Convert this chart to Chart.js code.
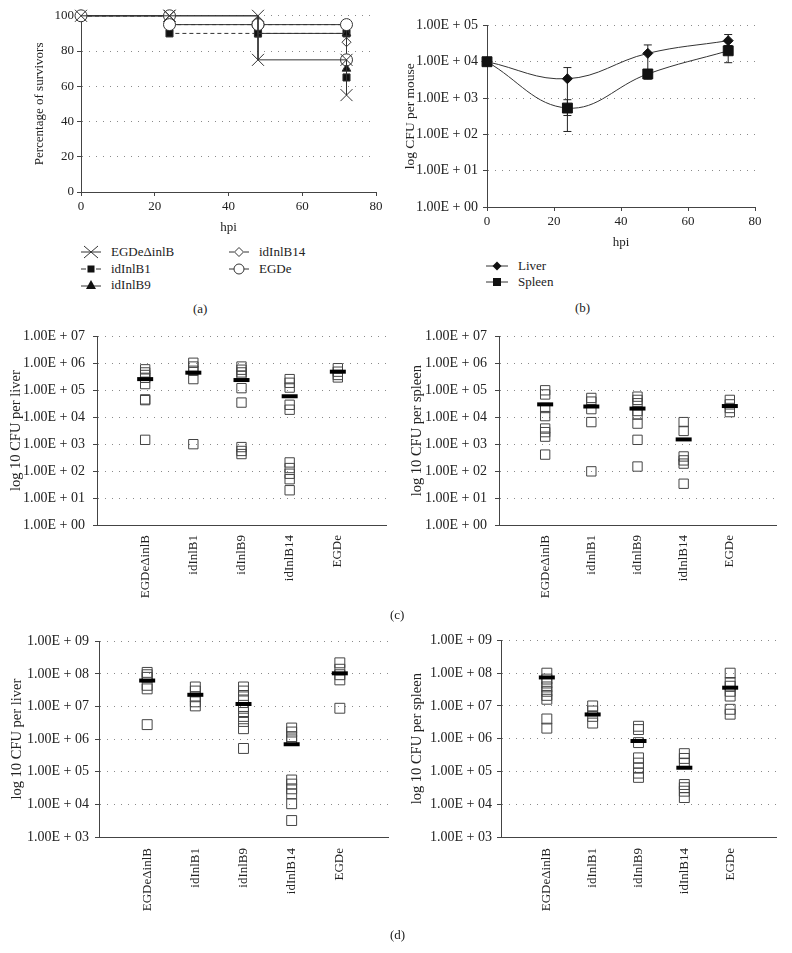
<!DOCTYPE html>
<html>
<head>
<meta charset="utf-8">
<script src="https://cdn.jsdelivr.net/npm/chart.js@4.4.0/dist/chart.umd.min.js"></script>
<style>
  body { margin: 0; width: 792px; height: 953px; background: #fff; position: relative; overflow: hidden;
         font-family: "Liberation Serif", "DejaVu Serif", serif; color: #222; }
  canvas { position: absolute; }
  .t { position: absolute; font-size: 13px; line-height: 16px; white-space: nowrap; }
  .t svg { vertical-align: middle; margin-right: 10px; position: relative; top: -1px; }
</style>
</head>
<body>
<canvas id="chartA" width="386" height="232" style="left:0;top:5px"></canvas>
<canvas id="chartB" width="365" height="240" style="left:400px;top:12px"></canvas>
<canvas id="chartCL" width="398" height="290" style="left:0;top:320px"></canvas>
<canvas id="chartCR" width="388" height="290" style="left:400px;top:320px"></canvas>
<canvas id="chartDL" width="400" height="300" style="left:0;top:627px"></canvas>
<canvas id="chartDR" width="388" height="300" style="left:400px;top:627px"></canvas>

<!-- legend (a) -->
<div class="t" style="left:81px;top:244px"><svg width="20" height="14"><line x1="0" y1="7" x2="20" y2="7" stroke="#333"/><line x1="3" y1="1" x2="17" y2="13" stroke="#333"/><line x1="3" y1="13" x2="17" y2="1" stroke="#333"/></svg>EGDeΔinlB</div>
<div class="t" style="left:81px;top:261px"><svg width="20" height="14"><line x1="0" y1="7" x2="5" y2="7" stroke="#333"/><line x1="15" y1="7" x2="20" y2="7" stroke="#333"/><rect x="6.5" y="3.5" width="7" height="7" fill="#111"/></svg>idInlB1</div>
<div class="t" style="left:81px;top:277px"><svg width="20" height="14"><line x1="0" y1="8" x2="20" y2="8" stroke="#333"/><polygon points="10,2 15,11 5,11" fill="#111"/></svg>idInlB9</div>
<div class="t" style="left:229px;top:244px"><svg width="20" height="14"><line x1="0" y1="7" x2="5" y2="7" stroke="#333"/><line x1="15" y1="7" x2="20" y2="7" stroke="#333"/><polygon points="10,2.5 14.5,7 10,11.5 5.5,7" fill="#fff" stroke="#333"/></svg>idInlB14</div>
<div class="t" style="left:229px;top:261px"><svg width="20" height="14"><line x1="0" y1="7" x2="20" y2="7" stroke="#333"/><circle cx="10" cy="7" r="5" fill="#fff" stroke="#333"/></svg>EGDe</div>
<div class="t" style="left:193px;top:301px">(a)</div>

<!-- legend (b) -->
<div class="t" style="left:486px;top:258px"><svg width="22" height="14"><line x1="0" y1="7" x2="22" y2="7" stroke="#333"/><polygon points="11,2.5 15.5,7 11,11.5 6.5,7" fill="#111"/></svg>Liver</div>
<div class="t" style="left:486px;top:274px"><svg width="22" height="14"><line x1="0" y1="7" x2="22" y2="7" stroke="#333"/><rect x="7" y="3" width="8" height="8" fill="#111"/></svg>Spleen</div>
<div class="t" style="left:575px;top:300px">(b)</div>

<div class="t" style="left:390px;top:607px">(c)</div>
<div class="t" style="left:390px;top:927px">(d)</div>

<script>
// ---- (a) survival ----
const hours = [0, 24, 48, 72];
const survEGDeDinlB = [100, 100, 75, 55];
const survInlB1 = [100, 90, 90, 65];
const survInlB9 = [100, 100, 90, 70];
const survInlB14 = [100, 95, 95, 85];
const survEGDe = [100, 95, 95, 75];

// ---- (b) log CFU per mouse ----
const liverCfu = [1.0e4, 3.4e3, 1.7e4, 3.8e4];
const liverLow = [null, 3.3e2, 3.3e3, 2.7e4];
const liverHigh = [null, 6.9e3, 2.9e4, 5.6e4];
const spleenCfu = [1.0e4, 5.3e2, 4.6e3, 2.0e4];
const spleenLow = [null, 1.2e2, 3.5e3, 9.4e3];
const spleenHigh = [null, 9.0e2, 5.5e3, 2.8e4];

// ---- (c) / (d) organ burdens ----
const strains = ['EGDeΔinlB', 'idInlB1', 'idInlB9', 'idInlB14', 'EGDe'];
const liverC = [
  [6.0e5, 4.6e5, 3.7e5, 2.9e5, 1.7e5, 4.6e4, 4.3e4, 1.45e3],
  [1.05e6, 7.6e5, 5.3e5, 2.6e5, 1.0e3],
  [7.6e5, 5.8e5, 4.6e5, 3.5e5, 1.2e5, 3.5e4, 7.8e2, 5.6e2, 4.3e2],
  [2.6e5, 1.9e5, 1.26e5, 2.9e4, 1.9e4, 2.1e2, 1.3e2, 8.0e1, 5.0e1, 1.95e1],
  [6.6e5, 4.9e5, 3.7e5, 3.0e5]
];
const liverCMean = [2.6e5, 4.5e5, 2.4e5, 6.0e4, 4.9e5];
const spleenC = [
  [1.0e5, 7.0e4, 2.2e4, 1.1e4, 3.8e3, 2.8e3, 1.9e3, 4.1e2],
  [5.2e4, 3.8e4, 2.0e4, 6.6e3, 9.8e1],
  [5.8e4, 4.4e4, 3.3e4, 1.7e4, 1.26e4, 5.8e3, 1.45e3, 1.48e2],
  [6.6e3, 3.1e3, 3.5e2, 2.5e2, 1.9e2, 3.4e1],
  [4.4e4, 3.0e4, 2.2e4, 1.55e4]
];
const spleenCMean = [3.0e4, 2.5e4, 2.1e4, 1.5e3, 2.6e4];
const liverD = [
  [1.12e8, 9.5e7, 7.9e7, 4.5e7, 3.5e7, 2.8e6],
  [4.0e7, 3.0e7, 2.0e7, 1.4e7, 1.05e7],
  [4.0e7, 3.0e7, 2.2e7, 1.6e7, 8.9e6, 6.6e6, 5.0e6, 3.5e6, 2.1e6, 5.2e5],
  [2.2e6, 1.66e6, 1.2e6, 9.5e5, 5.6e4, 4.2e4, 3.0e4, 2.1e4, 1.05e4, 3.2e3],
  [2.2e8, 1.4e8, 9.5e7, 6.6e7, 8.9e6]
];
const liverDMean = [6.3e7, 2.3e7, 1.2e7, 7.0e5, 1.05e8];
const spleenD = [
  [1.0e8, 6.6e7, 5.0e7, 3.8e7, 2.8e7, 2.1e7, 1.6e7, 4.0e6, 2.1e6],
  [1.0e7, 7.0e6, 4.8e6, 3.0e6],
  [2.4e6, 1.9e6, 7.6e5, 2.6e5, 1.8e5, 1.26e5, 8.9e4, 6.6e4],
  [3.5e5, 2.5e5, 1.8e5, 4.0e4, 3.2e4, 2.5e4, 1.6e4],
  [1.0e8, 5.2e7, 4.0e7, 2.8e7, 2.0e7, 7.9e6, 5.6e6]
];
const spleenDMean = [7.4e7, 5.5e6, 8.5e5, 1.3e5, 3.6e7];

const expC = [0, 1, 2, 3, 4, 5, 6, 7];
const expD = [3, 4, 5, 6, 7, 8, 9];
const expB = [0, 1, 2, 3, 4, 5];

const FONT = { family: '"Liberation Serif", serif', size: 13 };
const LOGTICK = { family: '"Liberation Serif", serif', size: 14 };
const BIGTITLE = { family: '"Liberation Serif", serif', size: 14.5 };
const INK = '#222';
const AXIS = '#444';
const DOTS = '#8a8a8a';

Chart.defaults.font = FONT;
Chart.defaults.color = INK;
Chart.defaults.animation = false;
Chart.defaults.responsive = false;
Chart.defaults.plugins.legend.display = false;
Chart.defaults.plugins.tooltip.enabled = false;

function sciLabel(v) {
  const e = Math.round(Math.log10(v));
  return '1.00E + ' + String(e).padStart(2, '0');
}

function decadeTicks(exps) {
  return scale => { scale.ticks = exps.map(e => ({ value: Math.pow(10, e) })); };
}

function kmPoints(vals) {
  const pts = [{ x: hours[0], y: vals[0] }];
  for (let i = 1; i < hours.length; i++) {
    pts.push({ x: hours[i], y: vals[i - 1] }, { x: hours[i], y: vals[i] });
  }
  return pts;
}

// error bars drawn behind the markers
const errorBars = {
  id: 'errorBars',
  beforeDatasetsDraw(chart) {
    const { ctx, scales: { x, y } } = chart;
    ctx.save();
    ctx.strokeStyle = INK;
    ctx.lineWidth = 1;
    chart.data.datasets.forEach(ds => {
      if (!ds.errLow) return;
      ds.data.forEach((p, i) => {
        if (ds.errLow[i] == null) return;
        const px = x.getPixelForValue(p.x);
        const yl = y.getPixelForValue(ds.errLow[i]);
        const yh = y.getPixelForValue(ds.errHigh[i]);
        ctx.beginPath();
        ctx.moveTo(px, yl); ctx.lineTo(px, yh);
        ctx.moveTo(px - 4, yl); ctx.lineTo(px + 4, yl);
        ctx.moveTo(px - 4, yh); ctx.lineTo(px + 4, yh);
        ctx.stroke();
      });
    });
    ctx.restore();
  }
};

// ---- (a) ----
// markFrom: markers are only drawn from that hour on (earlier ones sit under other symbols)
function kmSet(vals, style, radius, fill, dash, markFrom = 0) {
  const pts = kmPoints(vals);
  return {
    data: pts, borderColor: '#333', borderWidth: 1, borderDash: dash,
    pointStyle: style, pointRadius: pts.map(p => (p.x >= markFrom ? radius : 0)),
    pointBackgroundColor: fill,
    pointBorderColor: '#333', pointBorderWidth: 1, tension: 0, clip: false
  };
}
new Chart(document.getElementById('chartA'), {
  type: 'line',
  data: {
    datasets: [
      kmSet(survEGDeDinlB, 'crossRot', 8.5, '#333', []),
      kmSet(survEGDe, 'circle', 6, '#fff', []),
      kmSet(survInlB14, 'rectRot', 4.5, '#fff', [4, 3]),
      kmSet(survInlB9, 'triangle', 5, '#111', [], 72),
      kmSet(survInlB1, 'rect', 5, '#111', [4, 3])
    ]
  },
  options: {
    layout: { padding: { top: 10, right: 10, left: 0, bottom: 0 } },
    scales: {
      x: {
        type: 'linear', min: 0, max: 80,
        ticks: { stepSize: 20, padding: 3 },
        grid: { drawOnChartArea: false, tickLength: 4, color: AXIS },
        border: { color: AXIS },
        title: { display: true, text: 'hpi', padding: { top: 0, bottom: 2 } },
        afterFit: s => { s.height = 45; }
      },
      y: {
        min: 0, max: 100,
        ticks: { stepSize: 20, padding: 3 },
        grid: { color: DOTS, tickLength: 4, tickColor: AXIS },
        border: { color: AXIS, dash: [1, 6] },
        title: { display: true, text: 'Percentage of survivors', padding: { top: 32, bottom: 0 } },
        afterFit: s => { s.width = 81; }
      }
    }
  }
});

// ---- (b) ----
new Chart(document.getElementById('chartB'), {
  type: 'line',
  data: {
    datasets: [
      {
        label: 'Liver', data: hours.map((h, i) => ({ x: h, y: liverCfu[i] })),
        errLow: liverLow, errHigh: liverHigh, clip: false,
        borderColor: '#333', borderWidth: 1, tension: 0.4,
        pointStyle: 'rectRot', pointRadius: 5, pointBackgroundColor: '#111', pointBorderColor: '#111'
      },
      {
        label: 'Spleen', data: hours.map((h, i) => ({ x: h, y: spleenCfu[i] })),
        errLow: spleenLow, errHigh: spleenHigh, clip: false,
        borderColor: '#333', borderWidth: 1, tension: 0.4,
        pointStyle: 'rect', pointRadius: 7, pointBackgroundColor: '#111', pointBorderColor: '#111'
      }
    ]
  },
  options: {
    layout: { padding: { top: 10, right: 10, left: 0, bottom: 0 } },
    scales: {
      x: {
        type: 'linear', min: 0, max: 80,
        ticks: { stepSize: 20, padding: 3 },
        grid: { drawOnChartArea: false, tickLength: 4, color: AXIS },
        border: { color: AXIS },
        title: { display: true, text: 'hpi', padding: { top: 0, bottom: 2 } },
        afterFit: s => { s.height = 45; }
      },
      y: {
        type: 'logarithmic', min: 1, max: 1e5,
        afterBuildTicks: decadeTicks(expB),
        ticks: { callback: v => sciLabel(v), padding: 5, font: LOGTICK },
        grid: { color: DOTS, tickLength: 4, tickColor: AXIS },
        border: { color: AXIS, dash: [1, 6] },
        title: { display: true, text: 'log CFU per mouse', padding: { top: 2, bottom: 0 }, font: { size: 13.5 } },
        afterFit: s => { s.width = 87; }
      }
    }
  },
  plugins: [errorBars]
});

// ---- (c) / (d) ----
function scatterPanel(id, groups, means, exps, yTitle, g) {
  const pts = [];
  groups.forEach((vals, i) => vals.forEach(v => pts.push({ x: i + 1, y: v })));
  new Chart(document.getElementById(id), {
    type: 'scatter',
    data: {
      datasets: [
        {
          data: means.map((m, i) => ({ x: i + 1, y: m })), clip: false,
          pointStyle: 'line', pointRadius: 8, pointBorderWidth: 4, pointBorderColor: '#000'
        },
        {
          data: pts, clip: false,
          pointStyle: 'rect', pointRadius: g.r, pointBorderWidth: 1,
          pointBorderColor: '#444', pointBackgroundColor: 'rgba(0,0,0,0)'
        }
      ]
    },
    options: {
      layout: { padding: { top: 10, right: g.right, left: 0, bottom: 0 } },
      scales: {
        x: {
          type: 'linear', min: 0, max: strains.length + 1,
          afterBuildTicks: s => { s.ticks = strains.map((_, i) => ({ value: i + 1 })); },
          ticks: { callback: v => strains[v - 1], minRotation: 90, maxRotation: 90, padding: g.xp, autoSkip: false },
          grid: { display: false },
          border: { color: AXIS },
          afterFit: s => { s.height = g.xh; }
        },
        y: {
          type: 'logarithmic', min: Math.pow(10, exps[0]), max: Math.pow(10, exps[exps.length - 1]),
          afterBuildTicks: decadeTicks(exps),
          ticks: { callback: v => sciLabel(v), padding: g.tp, font: LOGTICK },
          grid: { color: DOTS, tickLength: 4, tickColor: AXIS },
          border: { color: AXIS, dash: [1, 6] },
          title: { display: true, text: yTitle, padding: { top: g.titlePad, bottom: 0 }, font: BIGTITLE },
          afterFit: s => { s.width = g.yw; }
        }
      }
    }
  });
}

scatterPanel('chartCL', liverC, liverCMean, expC, 'log 10 CFU per liver',
  { yw: 97, tp: 8, titlePad: 7, right: 4, xh: 85, xp: 2, r: 6.6 });
scatterPanel('chartCR', spleenC, spleenCMean, expC, 'log 10 CFU per spleen',
  { yw: 99, tp: 8, titlePad: 8, right: 4, xh: 85, xp: 2, r: 6.6 });
scatterPanel('chartDL', liverD, liverDMean, expD, 'log 10 CFU per liver',
  { yw: 99, tp: 6, titlePad: 8, right: 3, xh: 90, xp: 3, r: 7 });
scatterPanel('chartDR', spleenD, spleenDMean, expD, 'log 10 CFU per spleen',
  { yw: 101, tp: 5, titlePad: 8, right: 3, xh: 90, xp: 3, r: 7 });
</script>
</body>
</html>
